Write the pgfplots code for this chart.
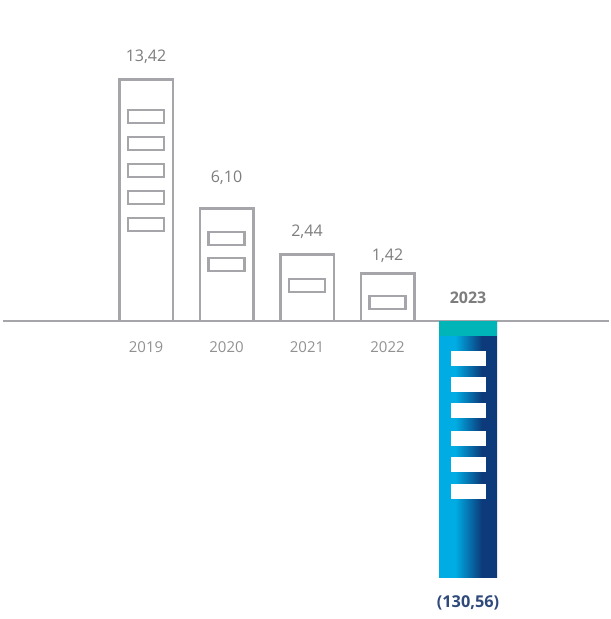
\documentclass[border=0pt]{standalone}
\usepackage{fontspec}
\setmainfont{Open Sans}
\usepackage{pgfplots}
\pgfplotsset{compat=1.18}
\usepackage{pgfplotstable}
\definecolor{bargray}{RGB}{166,166,170}
\definecolor{txtgray}{RGB}{125,125,125}
\definecolor{teal23}{RGB}{0,181,184}
\definecolor{cyan23}{RGB}{0,172,228}
\definecolor{navy23}{RGB}{12,58,122}
\definecolor{lbl23}{RGB}{47,74,122}
\pgfdeclarehorizontalshading{bar23}{100bp}{color(0bp)=(cyan23); color(39bp)=(cyan23); color(62bp)=(navy23); color(100bp)=(navy23)}
\pgfdeclareplotmark{win}{\pgfpathrectangle{\pgfpoint{-18bp}{-6.5bp}}{\pgfpoint{36bp}{13bp}}\pgfusepathqstroke}
\pgfdeclareplotmark{winfill}{\pgfpathrectangle{\pgfpoint{-17.5bp}{-7.5bp}}{\pgfpoint{35bp}{15bp}}\pgfusepathqfill}

\pgfplotstableread{
x y
0 13.42
1 6.259
2 3.705
3 2.651
}\posbars
\pgfplotstableread{
x y
4 -14.21
}\negbar
\pgfplotstableread{
x y
4 -0.833
}\capbar
\pgfplotstableread{
x y
0 11.352
0 9.853
0 8.355
0 6.856
0 5.357
1 4.580
1 3.136
2 1.971
3 1.027
}\wins
\pgfplotstableread{
x y
4 -2.082
4 -3.525
4 -4.968
4 -6.523
4 -7.966
4 -9.465
}\winsw
\pgfplotstableread{
x y lab
0 14.655 13,42
1 7.938 6,10
2 4.941 2,44
3 3.608 1,42
}\vallabs
\pgfplotstableread{
x y lab
0 -1.443 2019
1 -1.443 2020
2 -1.443 2021
3 -1.443 2022
}\yearlabs

\begin{document}
\begin{tikzpicture}
\begin{axis}[
  hide axis,
  scale only axis,
  x=80.5bp, y=18.014bp,
  xmin=-1.8137, xmax=5.7516,
  ymin=-16.54, ymax=17.82,
  clip=false,
]
\path (rel axis cs:0,0) rectangle (rel axis cs:1,1);
\addplot[bargray, line width=2.5bp] coordinates {(-1.776,0) (5.7516,0)};
\addplot[ybar, bar width=53.5bp, bar shift=0pt, draw=bargray, fill=none, line width=2.5bp] table {\posbars};
\addplot[ybar, bar width=58bp, bar shift=0pt, draw=none, shading=bar23] table {\negbar};
\addplot[ybar, bar width=58bp, bar shift=0pt, draw=none, fill=teal23] table {\capbar};
\addplot[only marks, mark=win, mark options={draw=bargray, line width=2.2bp}] table {\wins};
\addplot[only marks, mark=winfill, mark options={fill=white, draw=none}] table {\winsw};
\addplot[only marks, mark=none, nodes near coords, point meta=explicit symbolic,
  nodes near coords align=center,
  every node near coord/.style={font=\fontsize{16bp}{19bp}\selectfont, text=txtgray}]
  table[meta=lab] {\vallabs};
\addplot[only marks, mark=none, nodes near coords, point meta=explicit symbolic,
  nodes near coords align=center,
  every node near coord/.style={font=\fontsize{15bp}{18bp}\selectfont, text=txtgray!85}]
  table[meta=lab] {\yearlabs};
\addplot[only marks, mark=none, nodes near coords, point meta=explicit symbolic,
  nodes near coords align=center,
  every node near coord/.style={font=\bfseries\fontsize{16bp}{19bp}\selectfont, text=txtgray}]
  table[meta=lab] {x y lab
4 1.277 2023
};
\addplot[only marks, mark=none, nodes near coords, point meta=explicit symbolic,
  nodes near coords align=center,
  every node near coord/.style={font=\bfseries\fontsize{16.3bp}{19bp}\selectfont, text=lbl23}]
  table[meta=lab] {x y lab
4 -15.654 (130,56)
};
\end{axis}
\end{tikzpicture}
\end{document}
